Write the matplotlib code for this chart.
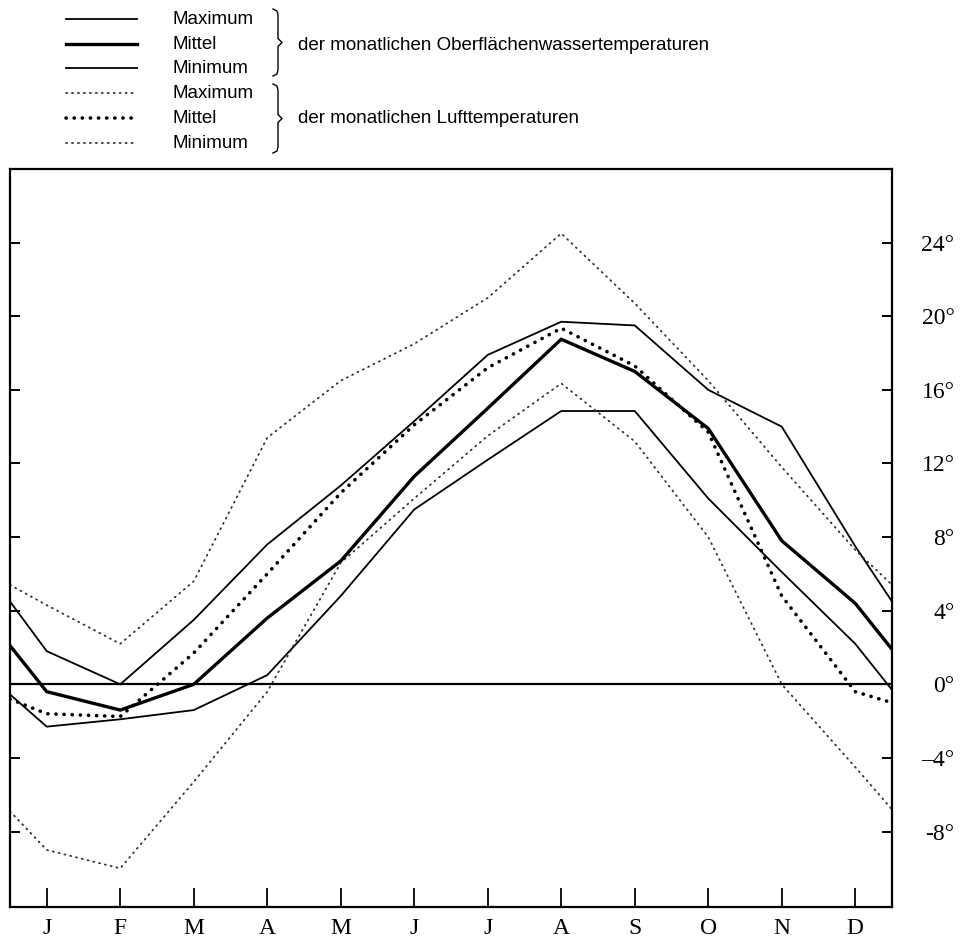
import numpy as np
import matplotlib
matplotlib.use("Agg")
import matplotlib.pyplot as plt

months = ["J", "F", "M", "A", "M", "J", "J", "A", "S", "O", "N", "D"]

# Werte an den Monatsmitten, dazu je ein Randwert links und rechts
water_max = [4.5, 1.8, 0.0, 3.5, 7.6, 10.8, 14.3, 17.9, 19.7, 19.5, 16.0, 14.0, 7.5, 4.5]
water_mean = [2.1, -0.4, -1.4, 0.0, 3.6, 6.7, 11.3, 15.0, 18.75, 17.0, 13.9, 7.8, 4.4, 1.9]
water_min = [-0.55, -2.3, -1.9, -1.4, 0.5, 4.8, 9.5, 12.2, 14.85, 14.85, 10.1, 6.1, 2.2, -0.3]
air_max = [5.4, 4.3, 2.2, 5.6, 13.4, 16.5, 18.5, 21.0, 24.5, 20.7, 16.5, 11.8, 7.3, 5.4]
air_mean = [-0.8, -1.6, -1.75, 1.7, 6.0, 10.4, 14.1, 17.2, 19.35, 17.3, 13.7, 4.8, -0.4, -1.0]
air_min = [-6.9, -9.0, -10.0, -5.3, -0.4, 6.6, 10.1, 13.5, 16.35, 13.2, 8.0, 0.0, -4.5, -6.8]

y_ticks = [24, 20, 16, 12, 8, 4, 0, -4, -8]
y_tick_labels = ["24°", "20°", "16°", "12°", "8°", "4°", "0°", "–4°", "-8°"]

legend_labels = ["Maximum", "Mittel", "Minimum", "Maximum", "Mittel", "Minimum"]
group_labels = ["der monatlichen Oberflächenwassertemperaturen",
                "der monatlichen Lufttemperaturen"]

SERIF = "Liberation Serif"
SANS = "Liberation Sans"

thin = dict(color="black", lw=1.3, solid_joinstyle="miter")
thick = dict(color="black", lw=2.4, solid_joinstyle="miter")
dot_thin = dict(color="#333333", lw=1.3, linestyle=(0, (0.6, 2.7)),
                dash_capstyle="round")
dot_thick = dict(color="black", lw=2.6, linestyle=(0, (0.05, 2.2)),
                 dash_capstyle="round")

W, H = 968, 941
fig = plt.figure(figsize=(W / 100, H / 100), dpi=100)
ax = fig.add_axes([10 / W, (H - 907) / H, (892 - 10) / W, (907 - 169) / H])

x = np.concatenate([[-0.5], np.arange(len(months)), [len(months) - 0.5]])

ax.axhline(0, color="black", lw=1.6, zorder=1)
ax.plot(x, water_max, **thin)
ax.plot(x, water_mean, **thick)
ax.plot(x, water_min, **thin)
ax.plot(x, air_max, **dot_thin)
ax.plot(x, air_mean, **dot_thick)
ax.plot(x, air_min, **dot_thin)

ax.set_xlim(-0.5, len(months) - 0.5)
ax.set_ylim(-12.1, 28.0)

for s in ax.spines.values():
    s.set_linewidth(1.6)

ax.set_xticks(np.arange(len(months)))
ax.set_xticklabels(months, fontfamily=SERIF, fontsize=17)
ax.tick_params(axis="x", direction="in", length=14, width=1.3, pad=8)

ax.set_yticks(y_ticks)
ax.set_yticklabels(y_tick_labels, fontfamily=SERIF, fontsize=17, ha="right")
ax.tick_params(axis="y", direction="in", length=7, width=1.4,
               left=True, right=True, labelleft=False, labelright=True, pad=45)

# Legende oben, in Pixelkoordinaten
lg = fig.add_axes([0, 0, 1, 1])
lg.set_xlim(0, W)
lg.set_ylim(H, 0)
lg.axis("off")

rows = [19, 44, 68, 93, 118, 143]
styles = [thin, thick, thin, dot_thin, dot_thick, dot_thin]
for yy, lab, st in zip(rows, legend_labels, styles):
    lg.plot([66, 137], [yy, yy], **st)
    lg.text(173, yy, lab, fontfamily=SANS, fontsize=13.5, va="center", ha="left")


def brace(a, xb, y0, y1):
    ym = (y0 + y1) / 2
    px = [xb - 5, xb - 1, xb, xb, xb + 4, xb, xb, xb - 1, xb - 5]
    py = [y0, y0 + 2, y0 + 6, ym - 4, ym, ym + 4, y1 - 6, y1 - 2, y1]
    a.plot(px, py, color="black", lw=1.0)


brace(lg, 278, 9, 76)
brace(lg, 278, 84, 153)
lg.text(298, 45, group_labels[0], fontfamily=SANS, fontsize=13.5, va="center")
lg.text(298, 118, group_labels[1], fontfamily=SANS, fontsize=13.5, va="center")

fig.savefig("out.png", dpi=100)
